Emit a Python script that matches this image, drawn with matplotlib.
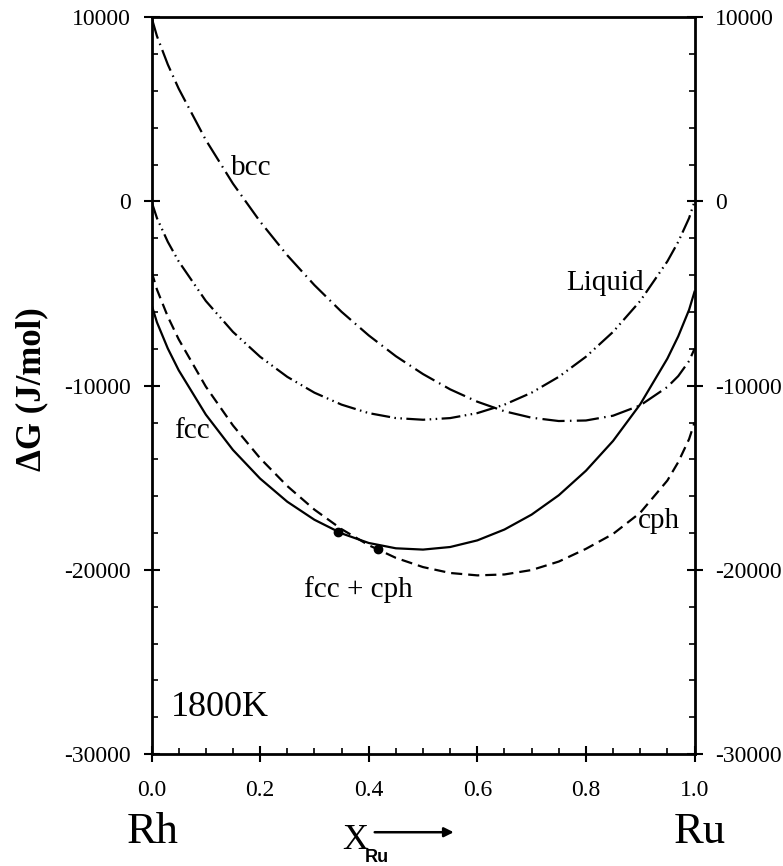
import matplotlib
matplotlib.use("Agg")
import matplotlib.pyplot as plt
from matplotlib.ticker import MultipleLocator

plt.rcParams["font.family"] = ["Liberation Serif", "DejaVu Serif"]
plt.rcParams["axes.unicode_minus"] = False

# Composition grid (mole fraction of Ru)
x_ru = [0.0, 0.01, 0.03, 0.05, 0.10, 0.15, 0.20, 0.25, 0.30, 0.35, 0.40, 0.45,
        0.50, 0.55, 0.60, 0.65, 0.70, 0.75, 0.80, 0.85, 0.90, 0.95, 0.97, 0.99, 1.0]

# Gibbs energy of each phase at 1800 K, J/mol
g_fcc = [-5600, -6560, -7980, -9160, -11570, -13490, -15045, -16300, -17280,
         -18020, -18540, -18830, -18900, -18760, -18400, -17810, -17000, -15950,
         -14620, -13000, -11010, -8530, -7320, -5880, -4900]
g_cph = [-3800, -4780, -6250, -7480, -10050, -12160, -13940, -15450, -16730,
         -17790, -18660, -19350, -19850, -20170, -20300, -20250, -20010, -19550,
         -18860, -18050, -16900, -15150, -14150, -12900, -12000]
g_bcc = [10000, 8980, 7440, 6130, 3340, 970, -1090, -2920, -4540, -5990, -7270,
         -8400, -9370, -10200, -10870, -11390, -11740, -11920, -11890, -11630,
         -11070, -10070, -9480, -8660, -8000]
g_liquid = [0, -900, -2190, -3250, -5400, -7080, -8430, -9520, -10380, -11030,
            -11490, -11760, -11850, -11760, -11490, -11030, -10380, -9520, -8430,
            -7080, -5400, -3250, -2190, -900, 0]

# Common tangent points fcc / cph
tangent_x = [0.343, 0.417]
tangent_g = [-17920, -18890]

fig = plt.figure(figsize=(7.83, 8.66), dpi=100)
ax = fig.add_axes([0.1935, 0.1293, 0.6935, 0.8507])

lw = 1.6
ax.plot(x_ru, g_fcc, color="black", lw=lw, linestyle="-")
ax.plot(x_ru, g_cph, color="black", lw=lw, linestyle=(0, (5, 2.7)))
ax.plot(x_ru, g_bcc, color="black", lw=lw, linestyle=(0, (10, 2.4, 0.7, 2.4)))
ax.plot(x_ru, g_liquid, color="black", lw=lw,
        linestyle=(0, (8.5, 2.0, 0.7, 2.0, 0.7, 2.0)))
ax.plot(tangent_x, tangent_g, "o", color="black", markersize=6)

# Phase labels
label_kw = dict(fontsize=21, ha="center", va="center")
ax.text(0.183, 1800, "bcc", **label_kw)
ax.text(0.836, -4400, "Liquid", **label_kw)
ax.text(0.075, -12450, "fcc", **label_kw)
ax.text(0.38, -21050, "fcc + cph", **label_kw)
ax.text(0.934, -17350, "cph", **label_kw)
ax.text(0.125, -27450, "1800K", fontsize=26, ha="center", va="center")

ax.set_xlim(0, 1)
ax.set_ylim(-30000, 10000)
ax.xaxis.set_minor_locator(MultipleLocator(0.05))
ax.yaxis.set_major_locator(MultipleLocator(10000))
ax.yaxis.set_minor_locator(MultipleLocator(2000))
ax.set_xticks([0, 0.2, 0.4, 0.6, 0.8, 1.0])
ax.set_xticklabels(["0.0", "0.2", "0.4", "0.6", "0.8", "1.0"])

ax.tick_params(which="major", direction="inout", length=12, width=1.5,
               labelsize=17, left=True, right=True, top=False,
               labelleft=True, labelright=True)
ax.tick_params(which="minor", direction="in", length=4, width=1.2,
               left=True, right=True, top=False)
ax.tick_params(axis="y", which="major", pad=9)
ax.tick_params(axis="x", which="major", pad=13)
for spine in ax.spines.values():
    spine.set_linewidth(2)

ax.set_ylabel("ΔG (J/mol)", fontsize=25, fontweight="bold")
ax.yaxis.set_label_coords(-0.19, 0.495)

# Composition axis annotation
fig.text(0.195, 0.026, "Rh", fontsize=32, ha="center", va="baseline")
fig.text(0.894, 0.027, "Ru", fontsize=32, ha="center", va="baseline")
fig.text(0.437, 0.020, "X", fontsize=26, ha="left", va="baseline")
fig.text(0.466, 0.005, "Ru", fontsize=13, fontweight="bold",
         family=["Liberation Sans"], ha="left", va="baseline")
fig.add_artist(matplotlib.patches.FancyArrowPatch(
    (0.475, 0.039), (0.583, 0.039), transform=fig.transFigure,
    arrowstyle="-|>", mutation_scale=14, lw=1.8, color="black"))

fig.savefig("out.png", dpi=100)
